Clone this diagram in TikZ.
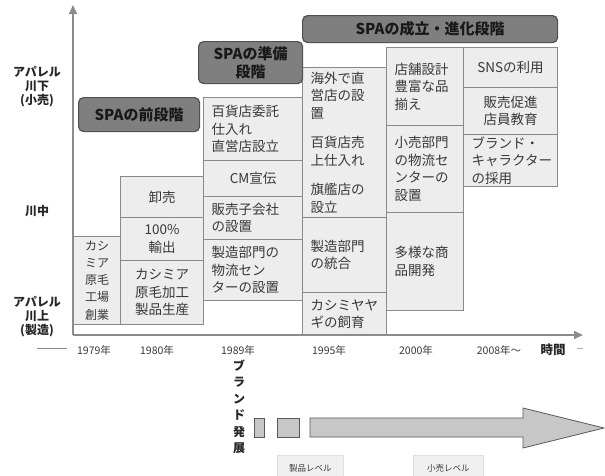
\documentclass[tikz,border=0pt]{standalone}
\usepackage{fontspec}
\newfontfamily\cjk{Noto Sans CJK JP}
\usetikzlibrary{arrows.meta}
\definecolor{boxfill}{HTML}{EDEDED}
\definecolor{boxline}{HTML}{8A8A8A}
\definecolor{txt}{HTML}{383838}
\definecolor{stagefill}{HTML}{7F7F7F}
\definecolor{stageline}{HTML}{505050}
\definecolor{axisc}{HTML}{8C8C8C}
\tikzset{
 cell/.style={draw=boxline, fill=boxfill, line width=1.1pt, inner xsep=8pt, inner ysep=0pt,
   anchor=north west, text=txt, font=\cjk\fontsize{13.5}{17.5}\selectfont},
 L/.style={align=left},
 C/.style={align=center},
 stage/.style={draw=stageline, fill=stagefill, line width=1.2pt, rounded corners=5pt,
   font=\cjk\bfseries\fontsize{15}{18}\selectfont, text=black!90, align=center, inner sep=0pt,
   anchor=north west},
 axlab/.style={font=\cjk\bfseries\fontsize{12}{14}\selectfont, align=center, text=black!85},
 year/.style={font=\cjk\fontsize{10.5}{12}\selectfont, text=txt},
 axisline/.style={axisc, line width=1.6pt},
 sq/.style={draw=black!65, fill=black!22, line width=0.8pt, inner sep=0pt, anchor=north west},
 lvl/.style={fill=black!6, draw=black!12, line width=0.6pt, inner sep=0pt, anchor=north west,
   font=\cjk\fontsize{8.5}{10}\selectfont, text=txt},
}
\newcommand\mkcell[7]{%
 \pgfmathsetmacro\cw{#4-#2}\pgfmathsetmacro\ch{#5-#3}\pgfmathsetmacro\tw{#4-#2-16}%
 \node[cell,#6, minimum width=\cw pt, minimum height=\ch pt, text width=\tw pt] (#1) at (#2,#3) {#7};}
\newcommand\mkstage[6]{%
 \pgfmathsetmacro\cw{#4-#2}\pgfmathsetmacro\ch{#5-#3}%
 \node[stage, minimum width=\cw pt, minimum height=\ch pt] (#1) at (#2,#3) {#6};}
\begin{document}
\begin{tikzpicture}[x=1pt,y=-1pt]
\clip (0,0) rectangle (605,475);
% axes
\coordinate (O) at (73,335);
\coordinate (Ytop) at (73,5);
\coordinate (Xend) at (583,335);
% cells
\mkcell{c1}{73}{236}{120}{324}{C}{\fontsize{12}{17}\selectfont カシ\\ミア\\原毛\\工場\\創業}
\mkcell{c2a}{120}{176}{203}{217}{C}{卸売}
\mkcell{c2b}{120}{217}{203}{260}{C}{100\%\\輸出}
\mkcell{c2c}{120}{260}{203}{324}{C}{カシミア\\原毛加工\\製品生産}
\mkcell{c3a}{203}{97}{302}{160}{L}{百貨店委託\\仕入れ\\直営店設立}
\mkcell{c3b}{203}{160}{302}{196}{C}{CM宣伝}
\mkcell{c3c}{203}{196}{302}{239}{L}{販売子会社\\の設置}
\mkcell{c3d}{203}{239}{302}{300}{L}{製造部門の\\物流セン\\ターの設置}
\mkcell{c4a}{302}{67}{386}{217}{L}{海外で直\\営店の設\\置\\[12pt]百貨店売\\上仕入れ\\[12pt]旗艦店の\\設立}
\mkcell{c4b}{302}{217}{386}{292}{L}{製造部門\\の統合}
\mkcell{c4c}{302}{292}{386}{335}{L}{カシミヤヤ\\ギの飼育}
\mkcell{c5a}{386}{47}{463}{125}{L}{店舗設計\\豊富な品\\揃え}
\mkcell{c5b}{386}{125}{463}{212}{L}{小売部門\\の物流セ\\ンターの\\設置}
\mkcell{c5c}{386}{212}{463}{310}{L}{多様な商\\品開発}
\mkcell{c6a}{463}{47}{557}{87}{C}{SNSの利用}
\mkcell{c6b}{463}{87}{557}{134}{C}{販売促進\\店員教育}
\mkcell{c6c}{463}{134}{557}{186}{L}{ブランド・\\キャラクター\\の採用}
% axes on top
\draw[axisline, -{Triangle[length=9pt,width=8pt]}] (O) -- (Ytop);
\draw[axisline, -{Triangle[length=9pt,width=8pt]}] (O) -- (Xend);
% stages
\mkstage{s1}{78}{97}{199}{131}{SPAの前段階}
\mkstage{s2}{198}{41}{302}{83}{SPAの準備\\段階}
\mkstage{s3}{302}{15}{557}{42}{SPAの成立・進化段階}
% axis labels
\node[axlab] (ydown) at (37,87) {アパレル\\川下\\(小売)};
\node[axlab] (ymid) at (37,211) {川中};
\node[axlab] (yup) at (37,317) {アパレル\\川上\\(製造)};
% years
\node[year] (y1979) at (94,350) {1979年};
\node[year] (y1980) at (157,350) {1980年};
\node[year] (y1989) at (238,350) {1989年};
\node[year] (y1995) at (329,350) {1995年};
\node[year] (y2000) at (416,350) {2000年};
\node[year] (y2008) at (499,350) {2008年～};
\node[font=\cjk\bfseries\fontsize{12.5}{14}\selectfont, text=black!85] (jikan) at (553,350) {時間};
\coordinate (dl1) at (37,348); \coordinate (dl2) at (67,348);
\coordinate (dr1) at (577,348); \coordinate (dr2) at (583,348);
\draw[axisc, line width=1pt] (dl1) -- (dl2);
\draw[axisc!70, line width=1pt] (dr1) -- (dr2);
% brand development
\node[font=\cjk\bfseries\fontsize{12}{16.5}\selectfont, align=center, text=black!85, inner sep=0pt] (brand) at (239,407) {ブ\\ラ\\ン\\ド\\発\\展};
\node[sq, minimum width=10pt, minimum height=19pt] (sb1) at (254,418) {};
\node[sq, minimum width=22pt, minimum height=19pt] (sb2) at (277,418) {};
\draw[draw=black!65, fill=black!22, line width=0.8pt]
  (310,418) -- (523,418) -- (523,408) -- (604,428) -- (523,448) -- (523,437) -- (310,437) -- cycle;
\node[lvl, minimum width=66pt, minimum height=26pt] (prod) at (277,455) {製品レベル};
\node[lvl, minimum width=70pt, minimum height=26pt] (retail) at (413,455) {小売レベル};
\end{tikzpicture}
\end{document}
